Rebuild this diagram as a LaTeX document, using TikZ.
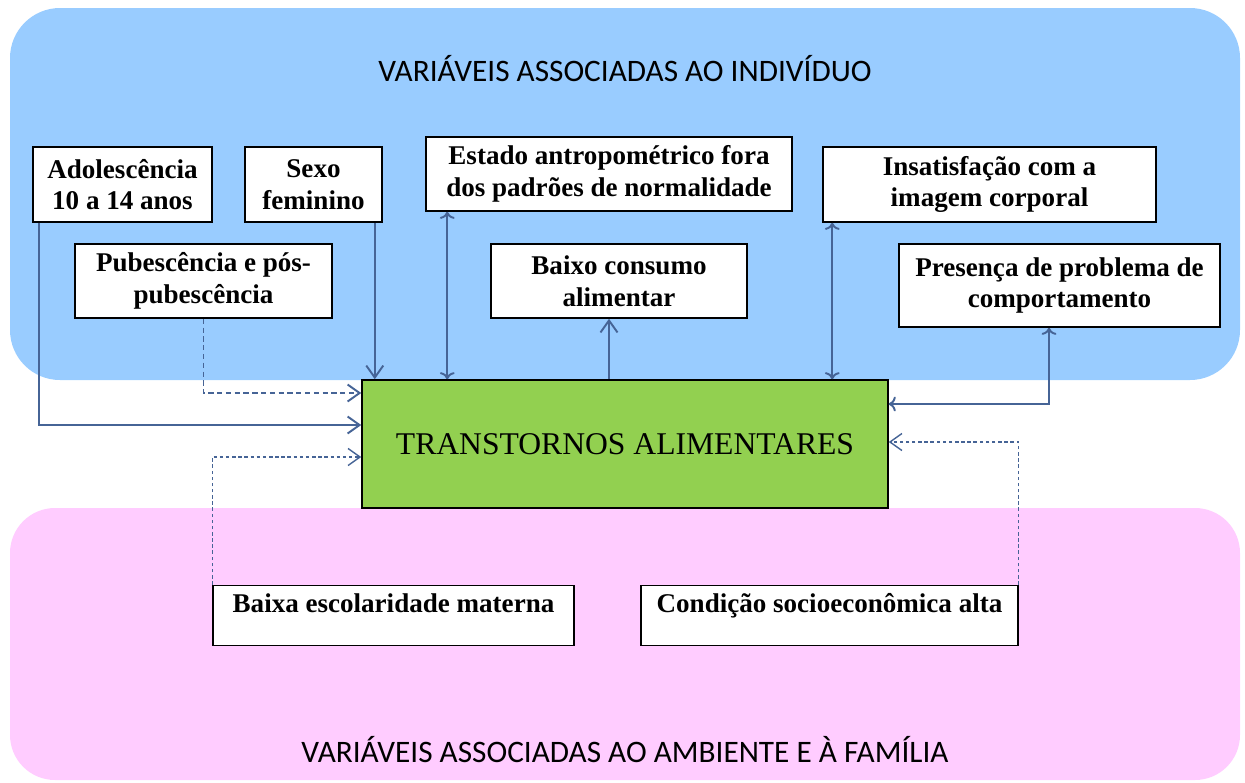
\documentclass[tikz,border=0pt]{standalone}
\usepackage{fontspec}
\setmainfont{Liberation Serif}
\newfontfamily\titulo{Carlito}
\usetikzlibrary{arrows.meta}

\definecolor{azul}{RGB}{153,204,255}
\definecolor{rosa}{RGB}{255,204,255}
\definecolor{verde}{RGB}{146,208,80}
\definecolor{linha}{RGB}{70,100,150}

\tikzset{
  caixa/.style={draw=black, line width=0.9pt, fill=white, align=center,
    font=\fontsize{15.4}{18}\selectfont\bfseries, inner sep=2pt},
  seta/.style={draw=linha, line width=1.1pt, -{Straight Barb[length=2.4mm,width=3.4mm]}},
  tracejada/.style={seta, dash pattern=on 3pt off 2pt},
  pontilhada/.style={seta, line width=0.8pt, dash pattern=on 2pt off 1.5pt},
  titulos/.style={font=\titulo\fontsize{17.8}{20}\selectfont}
}

\begin{document}
\begin{tikzpicture}[x=0.02cm,y=-0.02cm]
\useasboundingbox (0,0) rectangle (1245,782);

% regioes de fundo
\fill[azul, rounded corners=1cm] (10,8) rectangle (1240,380);
\fill[rosa, rounded corners=0.9cm] (10,508) rectangle (1240,780);
\node[titulos] (tind) at (625,69) {VARIÁVEIS ASSOCIADAS AO INDIVÍDUO};
\node[titulos] (tamb) at (625,750) {VARIÁVEIS ASSOCIADAS AO AMBIENTE E À FAMÍLIA};

% caixa central
\node[draw=black, line width=0.9pt, fill=verde, minimum width=10.52cm, minimum height=2.56cm,
  font=\fontsize{18}{20}\selectfont] (ta) at (625,444) {TRANSTORNOS ALIMENTARES};

% variaveis do individuo
\node[caixa, minimum width=3.58cm, minimum height=1.5cm] (adol) at (122.5,184.5) {Adolescência\\10 a 14 anos};
\node[caixa, minimum width=2.74cm, minimum height=1.5cm] (sexo) at (313.5,184.5) {Sexo\\feminino};
\node[caixa, minimum width=5.14cm, minimum height=1.48cm] (pub) at (203.5,281) {Pubescência e pós-\\pubescência};
\node[caixa, minimum width=7.32cm, minimum height=1.48cm] (estado) at (609,174) {Estado antropométrico fora\\dos padrões de normalidade};
\node[caixa, minimum width=5.12cm, minimum height=1.48cm] (baixo) at (619,281) {Baixo consumo\\alimentar};
\node[caixa, minimum width=6.66cm, minimum height=1.5cm] (insat) at (989.5,184.5) {Insatisfação com a\\imagem corporal};
\node[caixa, minimum width=6.42cm, minimum height=1.66cm] (pres) at (1059.5,285.5) {Presença de problema de\\comportamento};

% variaveis do ambiente e da familia
\node[caixa, minimum width=7.22cm, text height=0.46cm, text depth=0.6cm] (esc) at (393.5,615.5) {Baixa escolaridade materna};
\node[caixa, minimum width=7.54cm, text height=0.46cm, text depth=0.6cm] (cond) at (829.5,615.5) {Condição socioeconômica alta};

% ligacoes
\draw[seta] ([xshift=0.14cm]adol.south west) |- ([yshift=0.38cm]ta.west);
\draw[seta] ([xshift=-0.16cm]sexo.south east) -- ([xshift=-0.16cm]sexo.south east |- ta.north);
\draw[tracejada] (pub.south) |- ([yshift=1.02cm]ta.west);
\draw[seta, <->] ([xshift=0.44cm]estado.south west) -- ([xshift=0.44cm]estado.south west |- ta.north);
\draw[seta] ([xshift=-0.2cm]baixo.south |- ta.north) -- ([xshift=-0.2cm]baixo.south);
\draw[seta, <->] ([xshift=0.2cm]insat.south west) -- ([xshift=0.2cm]insat.south west |- ta.north);
\draw[seta, <->] ([xshift=-0.21cm]pres.south) |- ([yshift=0.8cm]ta.east);
\draw[pontilhada] (esc.north west) |- ([yshift=-0.26cm]ta.west);
\draw[pontilhada] (cond.north east) |- ([yshift=0.04cm]ta.east);
\end{tikzpicture}
\end{document}
